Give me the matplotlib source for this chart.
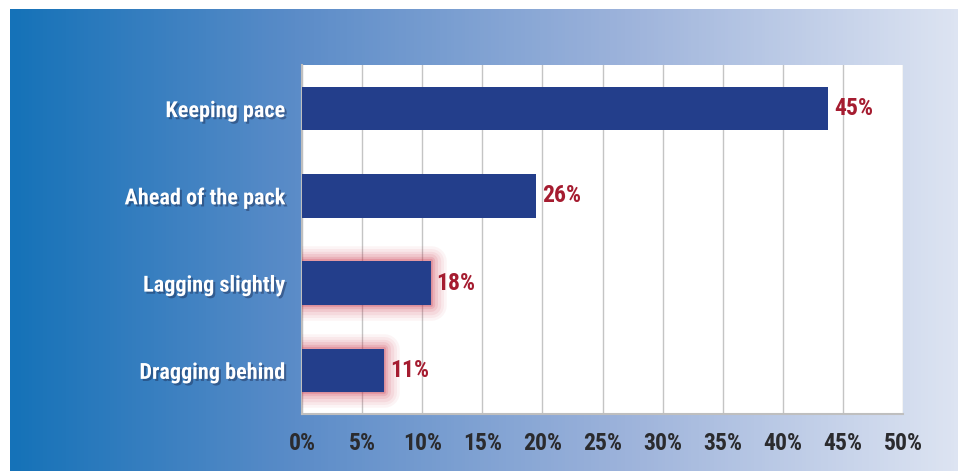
import matplotlib
matplotlib.use("Agg")
import matplotlib.pyplot as plt
import matplotlib.patheffects as pe
from matplotlib.colors import LinearSegmentedColormap
import numpy as np

categories = ["Keeping pace", "Ahead of the pack", "Lagging slightly", "Dragging behind"]
bar_values = [43.8, 19.5, 10.7, 6.8]
value_labels = ["45%", "26%", "18%", "11%"]
glow = [False, False, True, True]
xticks = [0, 5, 10, 15, 20, 25, 30, 35, 40, 45, 50]
xtick_labels = [f"{t}%" for t in xticks]

W, H = 958, 471
fig = plt.figure(figsize=(W / 100, H / 100), dpi=100)
fig.patch.set_facecolor("white")

# gradient background
bg = fig.add_axes([10 / W, 0, 1 - 10 / W, 1 - 9 / H])
cmap = LinearSegmentedColormap.from_list(
    "bg", [(0, "#1572b8"), (0.3, "#5b8cc8"), (0.65, "#9db3db"), (1, "#dde4f2")])
bg.imshow(np.linspace(0, 1, 256)[None, :], aspect="auto", cmap=cmap, extent=[0, 1, 0, 1])
bg.set_axis_off()

cond = ["Roboto Condensed", "Fira Sans Condensed", "Barlow Semi Condensed",
        "Saira SemiCondensed", "Archivo Narrow", "DejaVu Sans"]

ax = fig.add_axes([302 / W, 1 - 414 / H, (903 - 302) / W, (414 - 65) / H])
ax.set_facecolor("white")
y = np.arange(len(categories))
bars = ax.barh(y, bar_values, height=0.5, color="#233e8b", zorder=3)
for b, g in zip(bars, glow):
    if g:
        effects = []
        for lw, a in [(22, 0.05), (18, 0.06), (14, 0.08), (10, 0.10), (6, 0.14), (3, 0.2)]:
            effects.append(pe.Stroke(linewidth=lw, foreground="#cc3347", alpha=a, joinstyle="round"))
        effects.append(pe.Normal())
        b.set_path_effects(effects)
for yi, v, lab in zip(y, bar_values, value_labels):
    ax.text(v + 0.5, yi, lab, va="center", ha="left", color="#a51c30",
            fontsize=17, fontweight="bold", family=cond, zorder=4)

ax.set_ylim(len(categories) - 0.5, -0.5)
ax.set_xlim(0, 50)
ax.set_xticks(xticks)
ax.set_xticklabels(xtick_labels)
ax.set_yticks(y)
ax.set_yticklabels(categories)
ax.grid(axis="x", color="#c4c4c4", linewidth=1.0, zorder=0)
ax.set_axisbelow(True)
for s in ["top", "right"]:
    ax.spines[s].set_visible(False)
for s in ["left", "bottom"]:
    ax.spines[s].set_color("#bfbfbf")
    ax.spines[s].set_linewidth(1.5)
ax.tick_params(axis="both", length=0)
ax.tick_params(axis="x", pad=13)
ax.tick_params(axis="y", pad=12)
for t in ax.get_xticklabels():
    t.set_fontfamily(cond)
    t.set_fontsize(17)
    t.set_fontweight("bold")
    t.set_color("#2b2b2e")
for t in ax.get_yticklabels():
    t.set_fontfamily(cond)
    t.set_fontsize(16)
    t.set_fontweight("bold")
    t.set_color("white")
    t.set_path_effects([pe.withSimplePatchShadow(offset=(1.5, -1.5), shadow_rgbFace="#1a2a50", alpha=0.45)])

fig.savefig("out.png", dpi=100)
